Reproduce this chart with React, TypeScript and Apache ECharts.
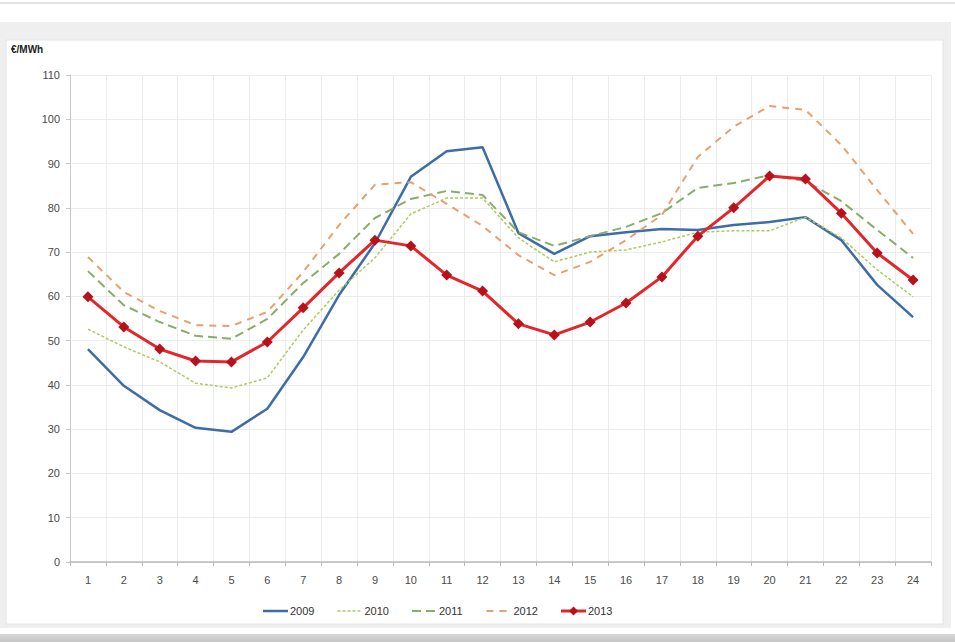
import React, { useEffect, useRef } from "react";
import * as echarts from "echarts";

// Hours of the day
const hours = ["1","2","3","4","5","6","7","8","9","10","11","12","13","14","15","16","17","18","19","20","21","22","23","24"];

// Hourly average price profiles, €/MWh
const y2009 = [48.1, 39.8, 34.3, 30.3, 29.4, 34.6, 46.3, 60.3, 72.0, 87.0, 92.8, 93.7, 74.3, 69.6, 73.6, 74.5, 75.2, 75.0, 76.1, 76.8, 77.9, 72.7, 62.6, 55.3];
const y2010 = [52.6, 48.6, 45.2, 40.4, 39.3, 41.6, 52.4, 61.4, 68.7, 78.6, 82.2, 82.2, 73.2, 67.8, 70.0, 70.5, 72.3, 74.5, 74.8, 74.8, 77.9, 73.2, 66.0, 59.9];
const y2011 = [65.7, 58.0, 54.2, 51.1, 50.4, 54.9, 63.0, 69.6, 77.7, 82.0, 83.8, 82.9, 74.5, 71.4, 73.6, 75.7, 78.8, 84.5, 85.6, 87.4, 86.0, 81.5, 75.0, 68.7];
const y2012 = [68.9, 61.0, 56.7, 53.5, 53.3, 56.5, 65.5, 76.1, 85.2, 85.8, 80.9, 75.9, 69.3, 64.8, 67.8, 72.7, 78.4, 91.5, 98.3, 103.0, 102.1, 94.2, 84.0, 74.1];
const y2013 = [59.9, 53.1, 48.1, 45.4, 45.2, 49.7, 57.4, 65.3, 72.7, 71.4, 64.8, 61.2, 53.8, 51.3, 54.2, 58.5, 64.4, 73.6, 80.0, 87.2, 86.5, 78.8, 69.8, 63.7];

const years = ["2009", "2010", "2011", "2012", "2013"];

const yTicks = { min: 0, max: 110, interval: 10 };

export default function App() {
  const ref = useRef<HTMLDivElement>(null);

  useEffect(() => {
    if (!ref.current) return;
    const chart = echarts.init(ref.current, null, { renderer: "svg" });
    const font = "Arial, 'Liberation Sans', sans-serif";
    const labelColor = "#4a4a4a";

    // per-year line styling, shared by the series and the legend keys
    const styles: { color: string; width: number; type: any }[] = [
      { color: "#3e6ca6", width: 2.5, type: "solid" },
      { color: "#aacb5e", width: 1.5, type: [3, 2] },
      { color: "#8aac6a", width: 2, type: [9, 5] },
      { color: "#e8a06e", width: 2, type: [7, 6] },
      { color: "#e2262b", width: 3, type: "solid" },
    ];
    const markerColor = "#b5121b";
    const seriesData = [y2009, y2010, y2011, y2012, y2013];

    // legend keys: short line sample plus year label
    const legendLeft = 263;
    const legendStep = 74.5;
    const legendY = 611;
    const legendGraphics: any[] = [];
    years.forEach((year, i) => {
      const x = legendLeft + i * legendStep;
      const s = styles[i];
      legendGraphics.push({
        type: "line",
        silent: true,
        shape: { x1: x, y1: legendY, x2: x + 25, y2: legendY },
        style: { stroke: s.color, lineWidth: s.width, lineDash: Array.isArray(s.type) ? s.type : null },
      });
      if (year === "2013") {
        legendGraphics.push({
          type: "polygon",
          silent: true,
          shape: { points: [[x + 12.5, legendY - 4.5], [x + 17, legendY], [x + 12.5, legendY + 4.5], [x + 8, legendY]] },
          style: { fill: markerColor },
        });
      }
      legendGraphics.push({
        type: "text",
        silent: true,
        x: x + 27,
        y: legendY,
        style: { text: year, font: `11px ${font}`, fill: "#333", verticalAlign: "middle" },
      });
    });

    chart.setOption({
      animation: false,
      backgroundColor: "#ffffff",
      graphic: [
        { type: "rect", silent: true, z: -10, shape: { x: 0, y: 2, width: 955, height: 2 }, style: { fill: "#e2e2e2" } },
        { type: "rect", silent: true, z: -10, shape: { x: 0, y: 22, width: 951, height: 606 }, style: { fill: "#efefef" } },
        { type: "rect", silent: true, z: -9, shape: { x: 6, y: 40, width: 937, height: 584 }, style: { fill: "#ffffff", stroke: "#e4e4e4", lineWidth: 1 } },
        {
          type: "rect", silent: true, z: -10, shape: { x: 0, y: 634, width: 955, height: 8 },
          style: {
            fill: new echarts.graphic.LinearGradient(0, 0, 0, 1, [
              { offset: 0, color: "#d8d8d8" },
              { offset: 1, color: "#c4c4c4" },
            ]),
          },
        },
        {
          type: "text", silent: true, left: 11, top: 44,
          style: { text: "€/MWh", font: `bold 10px ${font}`, fill: "#222" },
        },
        ...legendGraphics,
      ],
      grid: { left: 70, right: 24, top: 75, bottom: 80, containLabel: false },
      xAxis: {
        type: "category",
        data: hours,
        boundaryGap: true,
        axisLine: { lineStyle: { color: "#b8b8b8", width: 1.5 } },
        axisTick: { show: true, alignWithLabel: false, length: 4, lineStyle: { color: "#b8b8b8" } },
        axisLabel: { fontFamily: font, fontSize: 11, color: labelColor, margin: 12 },
        splitLine: { show: true, lineStyle: { color: "#ececec", width: 1 } },
      },
      yAxis: {
        type: "value",
        min: yTicks.min,
        max: yTicks.max,
        interval: yTicks.interval,
        axisLine: { show: true, lineStyle: { color: "#c8c8c8" } },
        axisTick: { show: true, length: 4, lineStyle: { color: "#c8c8c8" } },
        axisLabel: { fontFamily: font, fontSize: 11, color: labelColor, margin: 10 },
        splitLine: { show: true, lineStyle: { color: "#ececec", width: 1 } },
      },
      series: years.map((year, i) => {
        const s = styles[i];
        const withMarkers = year === "2013";
        return {
          name: year,
          type: "line",
          data: seriesData[i],
          symbol: withMarkers ? "diamond" : "none",
          symbolSize: 11,
          lineStyle: { color: s.color, width: s.width, type: s.type },
          itemStyle: { color: withMarkers ? markerColor : s.color },
          z: withMarkers ? 3 : 2,
        };
      }),
    });

    return () => chart.dispose();
  }, []);

  return (
    <div
      ref={ref}
      style={{ position: "fixed", left: 0, top: 0, width: 955, height: 642 }}
    />
  );
}
